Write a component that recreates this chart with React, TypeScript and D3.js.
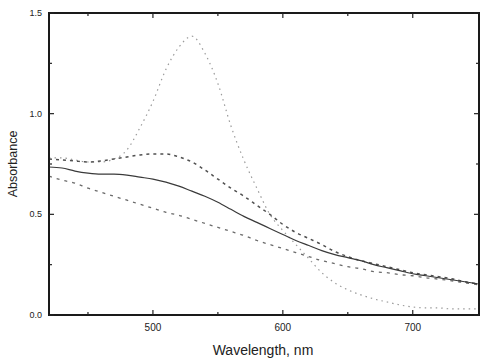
import * as d3 from "d3";
import React from "react";

// wavelength grid, nm
const wavelengths = [
  420, 430, 440, 450, 460, 470, 480, 490, 500, 510, 520, 530, 540, 550, 560, 570, 580,
  590, 600, 610, 620, 630, 640, 650, 660, 670, 680, 690, 700, 710, 720, 730, 740, 750,
];

const solidSeries = [
  0.735, 0.73, 0.715, 0.705, 0.7, 0.7, 0.695, 0.685, 0.675, 0.66, 0.64, 0.615, 0.59, 0.56,
  0.525, 0.49, 0.46, 0.43, 0.4, 0.37, 0.345, 0.32, 0.3, 0.285, 0.27, 0.25, 0.235, 0.22,
  0.205, 0.195, 0.185, 0.175, 0.165, 0.155,
];

const bumpSeries = [
  0.775, 0.77, 0.765, 0.76, 0.765, 0.775, 0.785, 0.795, 0.8, 0.8, 0.785, 0.76, 0.72, 0.675,
  0.63, 0.59, 0.545, 0.5, 0.45, 0.41, 0.38, 0.35, 0.315, 0.29, 0.27, 0.255, 0.24, 0.225,
  0.21, 0.2, 0.19, 0.18, 0.165, 0.155,
];

const peakSeries = [
  0.78, 0.78, 0.77, 0.76, 0.76, 0.775, 0.82, 0.93, 1.06, 1.22, 1.33, 1.385, 1.3, 1.15,
  0.94, 0.77, 0.63, 0.5, 0.42, 0.35, 0.28, 0.21, 0.16, 0.125, 0.1, 0.08, 0.065, 0.05,
  0.04, 0.035, 0.035, 0.03, 0.03, 0.03,
];

const slopeSeries = [
  0.69, 0.67, 0.655, 0.63, 0.61, 0.59, 0.57, 0.55, 0.53, 0.51, 0.495, 0.475, 0.455, 0.435,
  0.415, 0.395, 0.37, 0.35, 0.33, 0.31, 0.29, 0.27, 0.255, 0.24, 0.23, 0.215, 0.21, 0.2,
  0.195, 0.185, 0.178, 0.17, 0.16, 0.15,
];

const xMajorTicks = [500, 600, 700];
const xMinorTicks = [450, 550, 650];
const yMajorTicks = [0, 0.5, 1.0, 1.5];
const yMinorTicks = [0.25, 0.75, 1.25];

const W = 487;
const H = 360;
const left = 49;
const right = 479;
const top = 13;
const bottom = 315;

const series = [
  { name: "slope", values: slopeSeries, stroke: "#6a6a6a", width: 1.3, dash: "3,5" },
  { name: "peak", values: peakSeries, stroke: "#9a9a9a", width: 1.2, dash: "1.5,4" },
  { name: "bump", values: bumpSeries, stroke: "#505050", width: 1.5, dash: "3,4" },
  { name: "solid", values: solidSeries, stroke: "#3a3a3a", width: 1.2, dash: null },
];

export default function App() {
  const x = d3.scaleLinear().domain([420, 751]).range([left, right]);
  const y = d3.scaleLinear().domain([0, 1.5]).range([bottom, top]);

  const line = (vals: number[]) =>
    d3
      .line<number>()
      .x((_, i) => x(wavelengths[i]))
      .y((d) => y(d))
      .curve(d3.curveMonotoneX)(vals) || "";

  const font = "Arial, 'Liberation Sans', sans-serif";

  return (
    <svg
      width={W}
      height={H}
      style={{ position: "absolute", left: 0, top: 0, background: "#fff" }}
      fontFamily={font}
    >
      {series.map((s) => (
        <path
          key={s.name}
          d={line(s.values)}
          fill="none"
          stroke={s.stroke}
          strokeWidth={s.width}
          strokeDasharray={s.dash || undefined}
        />
      ))}

      <rect
        x={left}
        y={top}
        width={right - left}
        height={bottom - top}
        fill="none"
        stroke="#1a1a1a"
        strokeWidth={2}
      />

      {xMajorTicks.map((t) => (
        <g key={"xm" + t}>
          <line x1={x(t)} x2={x(t)} y1={bottom} y2={bottom - 5} stroke="#222" strokeWidth={1.2} />
          <line x1={x(t)} x2={x(t)} y1={top} y2={top + 5} stroke="#222" strokeWidth={1.2} />
          <text x={x(t)} y={331} textAnchor="middle" fontSize={10} fill="#222">
            {t}
          </text>
        </g>
      ))}
      {xMinorTicks.map((t) => (
        <g key={"xn" + t}>
          <line x1={x(t)} x2={x(t)} y1={bottom} y2={bottom - 3} stroke="#222" strokeWidth={1.2} />
          <line x1={x(t)} x2={x(t)} y1={top} y2={top + 3} stroke="#222" strokeWidth={1.2} />
        </g>
      ))}

      {yMajorTicks.map((t) => (
        <g key={"ym" + t}>
          <line x1={left} x2={left + 5} y1={y(t)} y2={y(t)} stroke="#222" strokeWidth={1.2} />
          <line x1={right} x2={right - 5} y1={y(t)} y2={y(t)} stroke="#222" strokeWidth={1.2} />
          <text x={42} y={y(t) + 3} textAnchor="end" fontSize={9} fill="#222">
            {t.toFixed(1)}
          </text>
        </g>
      ))}
      {yMinorTicks.map((t) => (
        <g key={"yn" + t}>
          <line x1={left} x2={left + 3} y1={y(t)} y2={y(t)} stroke="#222" strokeWidth={1.2} />
          <line x1={right} x2={right - 3} y1={y(t)} y2={y(t)} stroke="#222" strokeWidth={1.2} />
        </g>
      ))}

      <text x={263} y={355} textAnchor="middle" fontSize={14} fill="#222">
        Wavelength, nm
      </text>
      <text
        transform={`translate(17,${(top + bottom) / 2}) rotate(-90)`}
        textAnchor="middle"
        fontSize={12.5}
        fill="#222"
      >
        Absorbance
      </text>
    </svg>
  );
}
